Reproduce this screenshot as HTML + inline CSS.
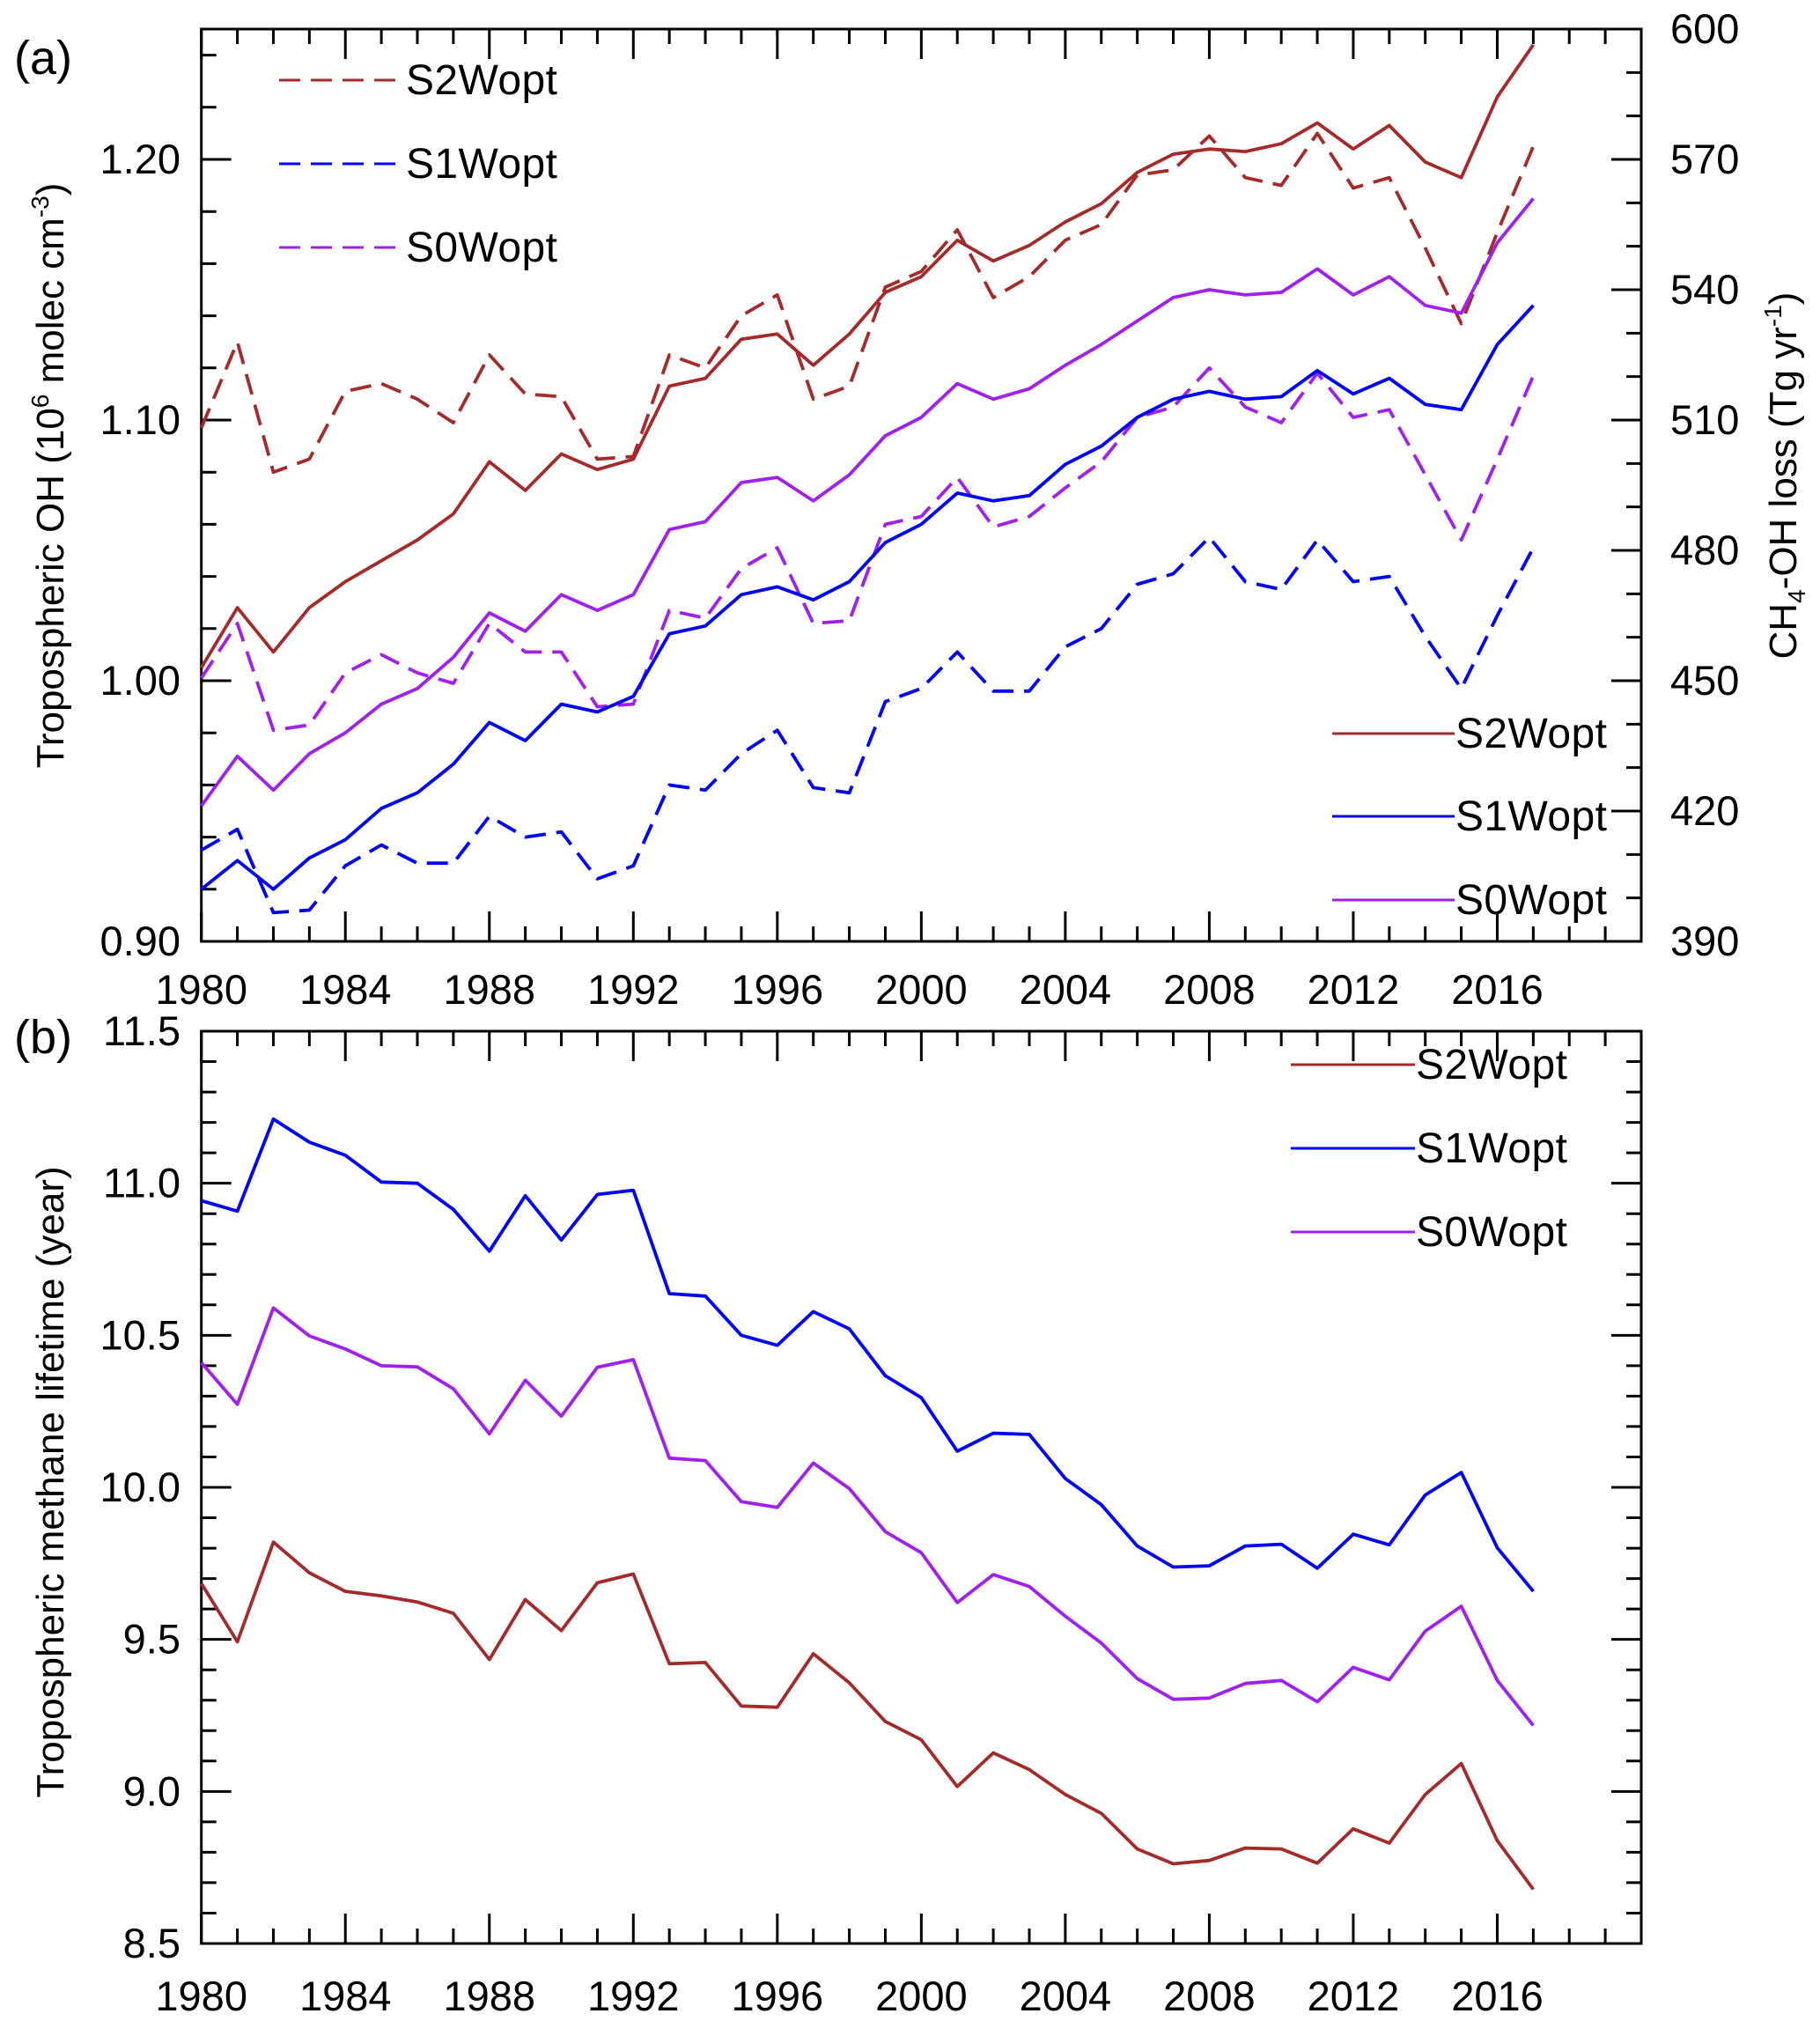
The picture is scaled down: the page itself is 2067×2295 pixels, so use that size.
<!DOCTYPE html>
<html><head><meta charset="utf-8"><style>
html,body{margin:0;padding:0;background:#fff;}
svg{display:block;font-family:"Liberation Sans",Arial,sans-serif;}
</style></head><body>
<svg id="fig" width="2067" height="2295" viewBox="0 0 2067 2295" xmlns="http://www.w3.org/2000/svg"></svg>
<script>
const years = [];
for (let y = 1980; y <= 2017; y++) years.push(y);
// Panel (a) tropospheric OH, 1e6 molec cm-3
const ohS2Solid = [1.005,1.028,1.011,1.028,1.038,1.046,1.054,1.064,1.084,1.073,1.087,1.081,1.085,1.113,1.116,1.131,1.133,1.121,1.133,1.149,1.155,1.169,1.161,1.167,1.176,1.183,1.195,1.202,1.204,1.203,1.206,1.214,1.204,1.213,1.199,1.193,1.224,1.244];
const ohS2Dash = [1.097,1.130,1.080,1.085,1.111,1.114,1.108,1.099,1.125,1.110,1.109,1.085,1.086,1.125,1.120,1.140,1.148,1.108,1.113,1.151,1.157,1.173,1.147,1.155,1.169,1.175,1.194,1.196,1.209,1.193,1.190,1.210,1.189,1.193,1.166,1.137,1.172,1.205];
const ohS1Solid = [0.920,0.931,0.920,0.932,0.939,0.951,0.957,0.968,0.984,0.977,0.991,0.988,0.994,1.018,1.021,1.033,1.036,1.031,1.038,1.053,1.060,1.072,1.069,1.071,1.083,1.090,1.101,1.108,1.111,1.108,1.109,1.119,1.110,1.116,1.106,1.104,1.129,1.144];
const ohS1Dash = [0.935,0.943,0.911,0.912,0.929,0.937,0.930,0.930,0.948,0.940,0.942,0.924,0.929,0.960,0.958,0.972,0.981,0.959,0.957,0.992,0.997,1.011,0.996,0.996,1.013,1.020,1.037,1.041,1.055,1.038,1.035,1.054,1.038,1.040,1.017,0.997,1.025,1.051];
const ohS0Solid = [0.952,0.971,0.958,0.972,0.980,0.991,0.997,1.009,1.026,1.019,1.033,1.027,1.033,1.058,1.061,1.076,1.078,1.069,1.079,1.094,1.101,1.114,1.108,1.112,1.121,1.129,1.138,1.147,1.150,1.148,1.149,1.158,1.148,1.155,1.144,1.141,1.168,1.185];
const ohS0Dash = [1.001,1.022,0.981,0.983,1.003,1.010,1.003,0.999,1.022,1.011,1.011,0.990,0.991,1.027,1.024,1.043,1.051,1.022,1.023,1.060,1.063,1.078,1.059,1.063,1.074,1.084,1.101,1.105,1.120,1.105,1.099,1.118,1.101,1.104,1.079,1.054,1.085,1.117];
// Panel (b) methane lifetime (year)
const ltS2 = [9.684,9.492,9.820,9.719,9.658,9.643,9.623,9.586,9.434,9.631,9.529,9.686,9.715,9.420,9.424,9.281,9.277,9.453,9.357,9.230,9.170,9.016,9.127,9.072,8.990,8.928,8.811,8.762,8.773,8.814,8.811,8.764,8.877,8.830,8.990,9.092,8.838,8.678];
const ltS1 = [10.943,10.908,11.211,11.135,11.092,11.004,11.000,10.914,10.777,10.959,10.813,10.963,10.977,10.637,10.629,10.500,10.467,10.578,10.521,10.367,10.295,10.119,10.178,10.174,10.029,9.943,9.807,9.738,9.742,9.807,9.813,9.734,9.846,9.811,9.975,10.049,9.801,9.658];
const ltS0 = [10.410,10.273,10.590,10.498,10.455,10.400,10.396,10.324,10.176,10.352,10.234,10.395,10.420,10.096,10.088,9.953,9.934,10.080,9.996,9.854,9.785,9.621,9.713,9.674,9.576,9.488,9.371,9.303,9.307,9.355,9.365,9.295,9.408,9.367,9.527,9.609,9.365,9.217];
const xTickLabels = ["1980","1984","1988","1992","1996","2000","2004","2008","2012","2016"];
const ohTickLabels = ["0.90","1.00","1.10","1.20"];
const lossTickLabels = ["390","420","450","480","510","540","570","600"];
const ltTickLabels = ["8.5","9.0","9.5","10.0","10.5","11.0","11.5"];

const NS = "http://www.w3.org/2000/svg";
const svg = document.getElementById("fig");
const C2 = "#a52a2a", C1 = "#0000ff", C0 = "#a020f0";
const L = 228.7, R = 1864;
const aT = 33, aB = 1069, bT = 1171, bB = 2207;
const X = y => L + (y - 1980) / 40 * (R - L);
const Ya = v => aB - (v - 0.90) / 0.35 * (aB - aT);
const Yb = v => bB - (v - 8.5) / 3.0 * (bB - bT);
const Yr = v => aB - (v - 390) / 210 * (aB - aT);
const FS = 47;

function el(tag, attrs, parent) {
  const e = document.createElementNS(NS, tag);
  for (const k in attrs) e.setAttribute(k, attrs[k]);
  (parent || svg).appendChild(e);
  return e;
}
function text(str, x, y, size, anchor, parent) {
  const t = el("text", {x: x, y: y, "font-size": size, "text-anchor": anchor || "start", fill: "#000"}, parent);
  t.textContent = str;
  return t;
}
function line(x1, y1, x2, y2, parent) {
  return el("line", {x1: x1, y1: y1, x2: x2, y2: y2, stroke: "#000", "stroke-width": 3}, parent);
}
function xTicks(top, bot, g, labelY) {
  for (let y = 1980; y <= 2020; y++) {
    const len = (y % 4 === 0) ? 34 : 17;
    const x = X(y);
    line(x, bot, x, bot - len, g);
    line(x, top, x, top + len, g);
  }
  xTickLabels.forEach(s => {
    const t = text(s, X(+s), labelY, FS, "middle", g);
    
    
  });
}
function series(vals, Y, color, dashed, name, g) {
  const pts = vals.map((v, i) => X(years[i]).toFixed(1) + "," + Y(v).toFixed(1)).join(" ");
  const p = el("polyline", {points: pts, fill: "none", stroke: color, "stroke-width": 3.8, "stroke-linejoin": "round"}, g);
  if (dashed) p.setAttribute("stroke-dasharray", "24,12");
  
  
}
function legendEntry(x1, x2, y, color, dashed, label, g, name) {
  const gg = el("g", {}, g);
  
  
  const l = el("line", {x1: x1, y1: y, x2: x2, y2: y, stroke: color, "stroke-width": 3}, gg);
  if (dashed) l.setAttribute("stroke-dasharray", "24,12");
  const t = text(label, x2 + 1, y + 16, 48, "start", gg);
  t.setAttribute("textLength", 172);
}

// ===== Panel (a)
const ga = el("g", {});


el("rect", {x: L, y: aT, width: R - L, height: aB - aT, fill: "none", stroke: "#000", "stroke-width": 3}, ga);
xTicks(aT, aB, ga, 1140);
for (let i = 0; i <= 17; i++) {
  const v = 0.90 + i * 0.02;
  const y = Ya(v);
  line(L, y, L + (i % 5 === 0 ? 34 : 17), y, ga);
}
ohTickLabels.forEach(s => {
  const t = text(s, 205, Ya(+s) + 16, FS, "end", ga);
  
  
});
for (let v = 390; v <= 600; v += 10) {
  const y = Yr(v);
  line(R, y, R - ((v - 390) % 30 === 0 ? 34 : 17), y, ga);
}
lossTickLabels.forEach(s => {
  const t = text(s, 1897, Yr(+s) + 16, FS, "start", ga);
  
  
});
series(ohS2Dash, Ya, C2, true, "s2wopt-dashed-line", ga);
series(ohS1Dash, Ya, C1, true, "s1wopt-dashed-line", ga);
series(ohS0Dash, Ya, C0, true, "s0wopt-dashed-line", ga);
series(ohS2Solid, Ya, C2, false, "s2wopt-solid-line", ga);
series(ohS1Solid, Ya, C1, false, "s1wopt-solid-line", ga);
series(ohS0Solid, Ya, C0, false, "s0wopt-solid-line", ga);
legendEntry(317, 460, 91, C2, true, "S2Wopt", ga, "legend-s2wopt-dashed");
legendEntry(317, 460, 186, C1, true, "S1Wopt", ga, "legend-s1wopt-dashed");
legendEntry(317, 460, 281, C0, true, "S0Wopt", ga, "legend-s0wopt-dashed");
legendEntry(1513, 1652, 833, C2, false, "S2Wopt", ga, "legend-s2wopt-solid");
legendEntry(1513, 1652, 927, C1, false, "S1Wopt", ga, "legend-s1wopt-solid");
legendEntry(1513, 1652, 1022, C0, false, "S0Wopt", ga, "legend-s0wopt-solid");
const la = text("(a)", 16, 84, 54, "start", ga);



const yt = el("text", {x: 0, y: 0, "font-size": 44, "text-anchor": "middle", transform: "translate(72,540) rotate(-90)"}, ga);


yt.innerHTML = 'Tropospheric OH (10<tspan dy="-17" font-size="28">6</tspan><tspan dy="17"> molec cm</tspan><tspan dy="-17" font-size="28">-3</tspan><tspan dy="17">)</tspan>';
const rt = el("text", {x: 0, y: 0, "font-size": 44, "text-anchor": "middle", transform: "translate(2040,540) rotate(-90)"}, ga);


rt.innerHTML = 'CH<tspan dy="10" font-size="28">4</tspan><tspan dy="-10">-OH loss (Tg yr</tspan><tspan dy="-17" font-size="28">-1</tspan><tspan dy="17">)</tspan>';

// ===== Panel (b)
const gb = el("g", {});


el("rect", {x: L, y: bT, width: R - L, height: bB - bT, fill: "none", stroke: "#000", "stroke-width": 3}, gb);
xTicks(bT, bB, gb, 2283);
for (let i = 0; i <= 30; i++) {
  const v = 8.5 + i * 0.1;
  const y = Yb(v);
  const len = (i % 5 === 0) ? 34 : 17;
  line(L, y, L + len, y, gb);
  line(R, y, R - len, y, gb);
}
ltTickLabels.forEach(s => {
  const t = text(s, 205, Yb(+s) + 16, FS, "end", gb);
  
  
});
series(ltS2, Yb, C2, false, "s2wopt-lifetime-line", gb);
series(ltS1, Yb, C1, false, "s1wopt-lifetime-line", gb);
series(ltS0, Yb, C0, false, "s0wopt-lifetime-line", gb);
legendEntry(1466, 1607, 1209, C2, false, "S2Wopt", gb, "legend-s2wopt");
legendEntry(1466, 1607, 1304, C1, false, "S1Wopt", gb, "legend-s1wopt");
legendEntry(1466, 1607, 1399, C0, false, "S0Wopt", gb, "legend-s0wopt");
const lb = text("(b)", 16, 1196, 54, "start", gb);


const bt = el("text", {x: 0, y: 0, "font-size": 44, "text-anchor": "middle", transform: "translate(72,1683) rotate(-90)"}, gb);


bt.textContent = "Tropospheric methane lifetime (year)";
</script>
</body></html>
